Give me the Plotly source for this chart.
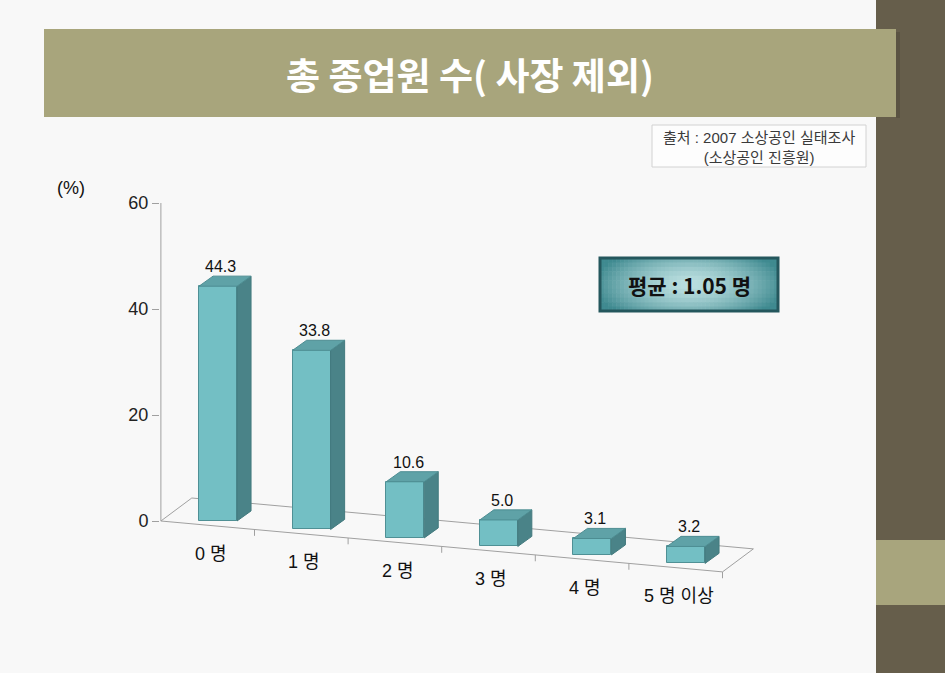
import plotly.graph_objects as go

# ---------------- data ----------------
categories = ["0 명", "1 명", "2 명", "3 명", "4 명", "5 명 이상"]
values = [44.3, 33.8, 10.6, 5.0, 3.1, 3.2]
y_ticks = [0, 20, 40, 60]
title_text = "총 종업원 수( 사장 제외)"
source_lines = ["출처 : 2007 소상공인 실태조사", "(소상공인 진흥원)"]
avg_text = "평균 : 1.05 명"

# ---------------- style ----------------
W, H = 945, 673
FRONT = "#73bfc4"
TOP = "#5fa2a7"
SIDE = "#4a8388"
EDGE = "#4f9095"
GRID = "#a0a0a0"
KFONT = "Noto Sans CJK KR"
LFONT = "Liberation Sans, Noto Sans CJK KR"

slope = -1.6          # perspective drop per category (styling)
bw = 0.406            # bar front width
ddx, ddy = 0.15, 1.9  # bar depth offset
x0 = -0.61            # floor front-left
fdx, fdy = 0.33, 4.34 # floor depth


def px(x):
    return x / W


def py(y):
    return 1 - y / H


idx = list(range(len(categories)))
bases = [slope * i for i in idx]

fig = go.Figure()

# front faces
fig.add_trace(go.Bar(
    x=idx, y=values, base=bases, width=bw,
    marker=dict(color=FRONT, line=dict(color=EDGE, width=1)),
    hoverinfo="skip", showlegend=False,
))

# side & top faces
for i, v, b in zip(idx, values, bases):
    t = b + v
    xr = i + bw / 2
    xl = i - bw / 2
    fig.add_trace(go.Scatter(
        x=[xr, xr + ddx, xr + ddx, xr, xr],
        y=[b, b + ddy, t + ddy, t, b],
        fill="toself", fillcolor=SIDE, mode="lines",
        line=dict(color="#437a7e", width=1), hoverinfo="skip", showlegend=False,
    ))
    fig.add_trace(go.Scatter(
        x=[xl, xr, xr + ddx, xl + ddx, xl],
        y=[t, t, t + ddy, t + ddy, t],
        fill="toself", fillcolor=TOP, mode="lines",
        line=dict(color="#4d8d92", width=1), hoverinfo="skip", showlegend=False,
    ))

shapes = []
# slide background decorations
shapes.append(dict(type="rect", xref="paper", yref="paper", x0=px(876), x1=px(W), y0=py(H), y1=py(0),
                   fillcolor="#665e4b", line=dict(width=0), layer="below"))
shapes.append(dict(type="rect", xref="paper", yref="paper", x0=px(876), x1=px(W), y0=py(605), y1=py(540),
                   fillcolor="#a8a57d", line=dict(width=0), layer="below"))
shapes.append(dict(type="rect", xref="paper", yref="paper", x0=px(896), x1=px(900), y0=py(118), y1=py(32),
                   fillcolor="#5a5342", line=dict(width=0), layer="below"))
shapes.append(dict(type="rect", xref="paper", yref="paper", x0=px(44), x1=px(896), y0=py(117), y1=py(29),
                   fillcolor="#a8a57c", line=dict(width=0), layer="below"))
# source box
shapes.append(dict(type="rect", xref="paper", yref="paper", x0=px(652), x1=px(866), y0=py(167), y1=py(125),
                   fillcolor="#fdfdfd", line=dict(color="#d2d2d2", width=1), layer="below"))
# average box (grid of cells imitating a radial gradient)
bx0, bx1, by0, by1 = 600, 778, 258, 311
cx, cy = (bx0 + bx1) / 2, (by0 + by1) / 2
hw, hh = (bx1 - bx0) / 2, (by1 - by0) / 2
dark = (0x3f, 0x8a, 0x90)
light = (0xbc, 0xe0, 0xe1)
nx, ny = 44, 12
cw, ch = (bx1 - bx0) / nx, (by1 - by0) / ny
for a in range(nx):
    for b in range(ny):
        xc = bx0 + (a + 0.5) * cw
        yc = by0 + (b + 0.5) * ch
        t = 0.85 * ((xc - cx) / hw) ** 2 + 0.45 * ((yc - cy) / hh) ** 2
        t = min(1.0, t) ** 0.75
        col = "#%02x%02x%02x" % tuple(int(l + (d - l) * t) for l, d in zip(light, dark))
        shapes.append(dict(type="rect", xref="paper", yref="paper",
                           x0=px(bx0 + a * cw), x1=px(bx0 + (a + 1) * cw + 0.6),
                           y0=py(by0 + (b + 1) * ch + 0.6), y1=py(by0 + b * ch),
                           fillcolor=col, line=dict(width=0), layer="below"))
shapes.append(dict(type="rect", xref="paper", yref="paper", x0=px(bx0), x1=px(bx1), y0=py(by1), y1=py(by0),
                   fillcolor="rgba(0,0,0,0)", line=dict(color="#24575d", width=3), layer="below"))

# y axis line
shapes.append(dict(type="line", xref="x", yref="y", x0=x0, x1=x0, y0=0, y1=60,
                   line=dict(color=GRID, width=1), layer="below"))
# floor
fl = [(x0, 0), (x0 + 6, slope * 6), (x0 + 6 + fdx, slope * 6 + fdy), (x0 + fdx, fdy)]
for a, b in [(0, 1), (1, 2), (2, 3), (3, 0)]:
    shapes.append(dict(type="line", xref="x", yref="y", x0=fl[a][0], y0=fl[a][1], x1=fl[b][0], y1=fl[b][1],
                       line=dict(color=GRID, width=1), layer="below"))
# category ticks on front floor line
for k in range(1, 7):
    xx = x0 + k
    yy = slope * k
    shapes.append(dict(type="line", xref="x", yref="y", x0=xx, x1=xx, y0=yy, y1=yy - 1.2,
                       line=dict(color=GRID, width=1), layer="below"))

annotations = []
annotations.append(dict(text=title_text, xref="paper", yref="paper", x=px(470), y=py(74),
                        xanchor="center", yanchor="middle",
                        showarrow=False, font=dict(family=KFONT, size=37, color="white", weight="bold")))
annotations.append(dict(text="<br>".join(source_lines), xref="paper", yref="paper", x=px(759), y=py(147),
                        xanchor="center", yanchor="middle",
                        showarrow=False, align="center",
                        font=dict(family=LFONT, size=15, color="#3a3a3a")))
annotations.append(dict(text=avg_text, xref="paper", yref="paper", x=px(689), y=py(285),
                        xanchor="center", yanchor="middle",
                        showarrow=False, font=dict(family=KFONT, size=21, color="#111", weight="bold")))
annotations.append(dict(text="(%)", xref="paper", yref="paper", x=px(71), y=py(188),
                        xanchor="center", yanchor="middle",
                        showarrow=False, font=dict(family=LFONT, size=18, color="#111")))
for i, v, b, c in zip(idx, values, bases, categories):
    annotations.append(dict(text=f"{v:.1f}", x=i + 0.03, y=b + v + ddy, xref="x", yref="y",
                            xanchor="center", yanchor="bottom", yshift=-1, showarrow=False,
                            font=dict(family=LFONT, size=16, color="#111")))
    annotations.append(dict(text=c, x=i - 0.08, y=b - 6.2, xref="x", yref="y",
                            xanchor="center", yanchor="middle",
                            showarrow=False, font=dict(family=LFONT, size=18, color="#111")))

fig.update_layout(
    width=W, height=H,
    margin=dict(l=0, r=0, t=0, b=0),
    paper_bgcolor="#f8f8f8", plot_bgcolor="rgba(0,0,0,0)",
    xaxis=dict(domain=[160 / W, 760 / W], range=[(160 - 218) / 93.6, (760 - 218) / 93.6],
               visible=False, fixedrange=True),
    yaxis=dict(domain=[1 - 620 / H, 1 - 180 / H], range=[-(620 - 521) / 5.3, (521 - 180) / 5.3],
               tickvals=y_ticks, ticks="outside", ticklen=7, tickcolor=GRID,
               showgrid=False, zeroline=False, showline=False,
               tickfont=dict(family=LFONT, size=18, color="#222"), fixedrange=True),
    shapes=shapes, annotations=annotations,
    showlegend=False, bargap=0,
)

fig.write_html("out.html")
